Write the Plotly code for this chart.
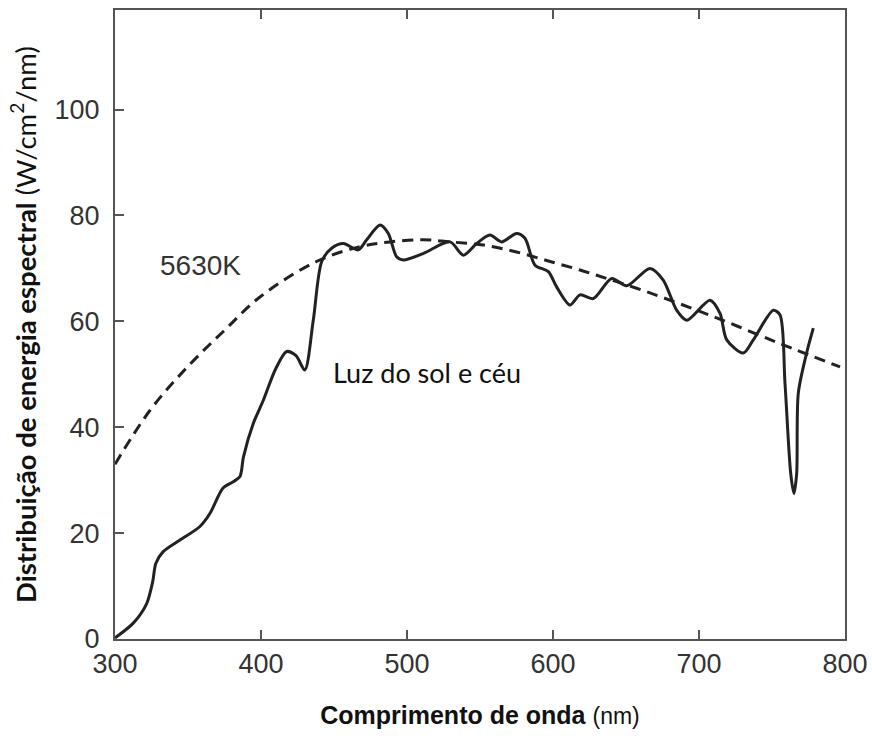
import plotly.graph_objects as go

# Measured spectrum "Luz do sol e céu"
sun_x = [300, 312.5, 321.7, 325.8, 328, 333, 344.5, 358, 365, 374, 381, 385.6, 388, 394.7, 401.6,
         410, 417.6, 424, 430, 435.8, 441.6, 448.4, 456.4, 466.6, 472.4, 481.5, 487.2, 492.9, 497.5,
         511, 529.5, 538.6, 547.7, 556.8, 564.8, 575, 580.8, 587.7, 596.8, 602.5, 611.6, 618.5,
         627.6, 640.2, 650.5, 666.4, 675.5, 684.7, 691.6, 707.5, 714.4, 719, 730.3, 737.2, 750.9,
         755.5, 758.9, 762.8, 765, 766.9, 768, 773.7, 778.3]
sun_y = [0.2, 3, 6.7, 10.8, 14.3, 16.5, 18.7, 21.2, 23.7, 28.5, 29.7, 30.7, 34.4, 40.7, 45.1,
         51, 54.3, 53.5, 50.8, 60.2, 71.3, 73.8, 74.7, 73.5, 75.4, 78.2, 76.6, 72.2, 71.6,
         72.8, 75.0, 72.5, 74.7, 76.3, 75.0, 76.6, 75.7, 70.6, 69.4, 66.5, 63.1, 65,
         64.3, 68.1, 66.7, 70, 67.8, 62.1, 60.2, 64, 61.5, 56.5, 54, 56.5, 62.1,
         61.2, 48.3, 31.3, 27.5, 31.3, 46.4, 54, 58.7]

# Blackbody 5630K curve
bb_x = [300, 324, 350, 375, 399.3, 438, 467.8, 488.4, 511, 529.5, 552.3, 575, 598, 618.5,
        630, 664, 709.8, 755.5, 796.6]
bb_y = [33, 43.2, 51.5, 58.3, 64.6, 71.3, 74.1, 75.0, 75.4, 75.0, 74.4, 73.1, 71.3, 69.7,
        68.7, 65.6, 60.9, 55.8, 51.4]

x_ticks = [300, 400, 500, 600, 700, 800]
y_ticks = [0, 20, 40, 60, 80, 100]

fig = go.Figure()
fig.add_trace(go.Scatter(x=bb_x, y=bb_y, mode="lines", line=dict(color="#222222", width=3, dash="11px,7px", shape="spline"),
                         showlegend=False, hoverinfo="skip"))
fig.add_trace(go.Scatter(x=sun_x, y=sun_y, mode="lines", line=dict(color="#222222", width=3, shape="spline", smoothing=0.8),
                         showlegend=False, hoverinfo="skip"))

fig.add_annotation(x=358.9, y=70.6, text="5630K", showarrow=False,
                   font=dict(family="Liberation Sans, Arial", size=28, color="#333333"))
fig.add_annotation(x=514, y=50.4, text="Luz do sol e céu", showarrow=False,
                   font=dict(family="Lato", size=27, color="#111111"))

fig.update_layout(
    width=872, height=740,
    margin=dict(l=115, r=27, t=10, b=101),
    plot_bgcolor="white", paper_bgcolor="white",
    xaxis=dict(range=[300, 800], tickvals=x_ticks, ticks="inside", ticklen=9, tickwidth=2, tickcolor="#555555",
               showline=True, linecolor="#555555", linewidth=2, mirror="ticks", showgrid=False, zeroline=False,
               automargin=False,
               tickfont=dict(family="Liberation Sans, Arial", size=27, color="#333333"),
               title=dict(text="<b>Comprimento de onda</b> <span style='font-size:23px'>(nm)</span>",
                          font=dict(family="Liberation Sans, Arial", size=25, color="#111111"), standoff=28)),
    yaxis=dict(range=[0, 118.8], tickvals=y_ticks, ticks="inside", ticklen=9, tickwidth=2, tickcolor="#555555",
               showline=True, linecolor="#555555", linewidth=2, mirror=True, showgrid=False, zeroline=False,
               automargin=False, ticklabelstandoff=8,
               tickfont=dict(family="Liberation Sans, Arial", size=27, color="#333333"),
               title=dict(text="<b>Distribuição de energia espectral</b> (W/cm<sup>2</sup>/nm)",
                          font=dict(family="Lato", size=27.5, color="#111111"), standoff=10)),
)

fig.write_html("out.html")
